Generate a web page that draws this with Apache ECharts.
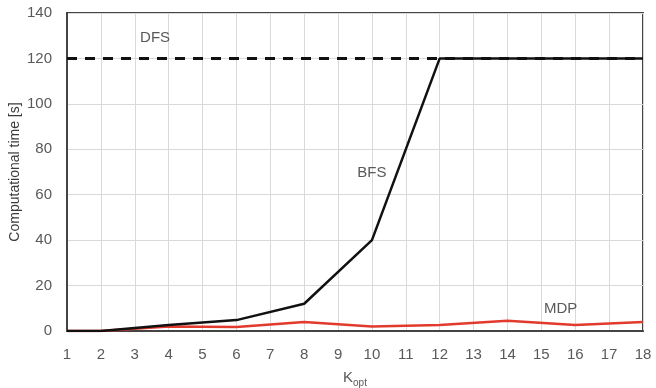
<!DOCTYPE html>
<html>
<head>
<meta charset="utf-8">
<script src="https://cdn.jsdelivr.net/npm/echarts@6/dist/echarts.min.js"></script>
<style>html,body{margin:0;padding:0;background:#fff}#c{width:656px;height:388px}</style>
</head>
<body>
<div id="c"></div>
<script>
var kValues = [1, 2, 4, 6, 8, 10, 12, 14, 16, 18];
var bfsValues = [0, 0, 2.6, 4.8, 12, 40, 120, 120, 120, 120];
var mdpValues = [0, 0, 2, 1.8, 4, 2, 2.6, 4.5, 2.6, 4];
var dfsK = [1, 18];
var dfsValues = [120, 120];
var yTicks = [0, 20, 40, 60, 80, 100, 120, 140];
var seriesLabels = [
  { text: 'DFS', k: 3.6, v: 129 },
  { text: 'BFS', k: 10.0, v: 69.5 },
  { text: 'MDP', k: 15.57, v: 9.8 }
];

function pairs(xs, ys) { return xs.map(function (x, i) { return [x, ys[i]]; }); }

var textColor = '#595959';
var font = 'Liberation Sans, Arial, sans-serif';
var chart = echarts.init(document.getElementById('c'), null, { renderer: 'canvas' });
chart.setOption({
  animation: false,
  grid: { left: 67, right: 13, top: 13, bottom: 57, containLabel: false, outerBoundsMode: 'none',
          show: true, borderColor: '#444', borderWidth: 2, backgroundColor: '#fff' },
  xAxis: {
    type: 'value', min: 1, max: 18, interval: 1,
    name: '{k|K}{s|opt}', nameLocation: 'middle', nameGap: 36, nameMoveOverlap: false,
    nameTextStyle: { rich: {
      k: { fontSize: 15, color: textColor, fontFamily: font, verticalAlign: 'bottom', lineHeight: 18 },
      s: { fontSize: 10, color: textColor, fontFamily: font, verticalAlign: 'bottom', lineHeight: 12, padding: [0, 0, -3, 0] }
    } },
    axisLine: { show: true, lineStyle: { color: '#444', width: 2 } },
    axisTick: { show: false },
    axisLabel: { color: textColor, fontSize: 15, fontFamily: font, margin: 16 },
    splitLine: { show: true, lineStyle: { color: '#d9d9d9', width: 1 } }
  },
  yAxis: {
    type: 'value', min: yTicks[0], max: yTicks[yTicks.length - 1], interval: yTicks[1] - yTicks[0],
    name: 'Computational time [s]', nameLocation: 'middle', nameGap: 45, nameMoveOverlap: false,
    nameTextStyle: { color: '#3a3a3a', fontSize: 14, fontFamily: font },
    axisLine: { show: true, lineStyle: { color: '#444', width: 2 } },
    axisTick: { show: false },
    axisLabel: { color: textColor, fontSize: 15, fontFamily: font, margin: 15 },
    splitLine: { show: true, lineStyle: { color: '#d9d9d9', width: 1 } }
  },
  series: [
    {
      name: 'DFS', type: 'line', data: pairs(dfsK, dfsValues), symbol: 'none',
      lineStyle: { color: '#111', width: 3, type: [10, 8] }, z: 2,
      markPoint: {
        symbol: 'circle', symbolSize: 0, silent: true,
        label: { show: true, position: 'inside', formatter: '{b}', color: textColor, fontSize: 15, fontFamily: font },
        data: seriesLabels.map(function (l) { return { name: l.text, coord: [l.k, l.v] }; })
      }
    },
    {
      name: 'MDP', type: 'line', data: pairs(kValues, mdpValues), symbol: 'none',
      lineStyle: { color: '#e23b2e', width: 2.5 }, z: 3
    },
    {
      name: 'BFS', type: 'line', data: pairs(kValues, bfsValues), symbol: 'none',
      lineStyle: { color: '#111', width: 2.5 }, z: 4
    }
  ]
});
</script>
</body>
</html>
